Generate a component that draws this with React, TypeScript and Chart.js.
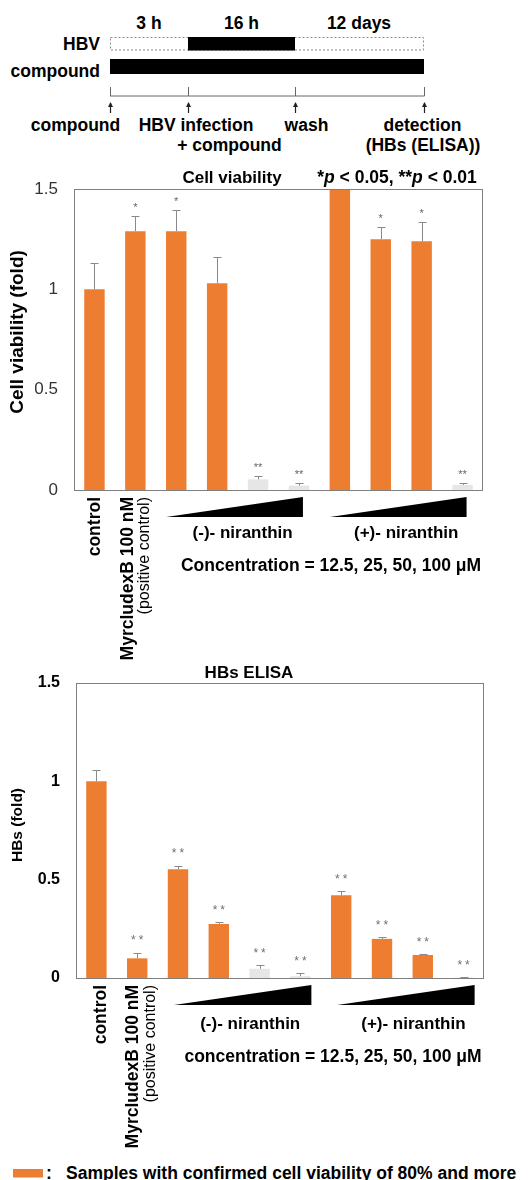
import React, { useEffect, useRef } from "react";
import { Chart, registerables } from "chart.js";

Chart.register(...registerables);

// ---------- data ----------
const categories = [
  "control",
  "MyrcludexB 100 nM",
  "(-)-niranthin 12.5 μM",
  "(-)-niranthin 25 μM",
  "(-)-niranthin 50 μM",
  "(-)-niranthin 100 μM",
  "(+)-niranthin 12.5 μM",
  "(+)-niranthin 25 μM",
  "(+)-niranthin 50 μM",
  "(+)-niranthin 100 μM",
];
const categoryLabelLines = [["control"], ["MyrcludexB 100 nM", "(positive control)"]];
const viability = [1.0, 1.29, 1.29, 1.03, 0.053, 0.022, 1.6, 1.25, 1.24, 0.025];
const viabilityErr = [0.13, 0.075, 0.105, 0.13, 0.015, 0.014, 0.1, 0.06, 0.095, 0.008];
const viabilitySig = ["", "*", "*", "", "**", "**", "", "*", "*", "**"];
const hbs = [1.0, 0.1, 0.553, 0.275, 0.047, 0.009, 0.421, 0.199, 0.117, 0.002];
const hbsErr = [0.06, 0.028, 0.018, 0.008, 0.018, 0.015, 0.02, 0.008, 0.003, 0.001];
const hbsSig = ["", "**", "**", "**", "**", "**", "**", "**", "**", "**"];
const yTicks = [0, 0.5, 1, 1.5];
const yTickLabels = ["0", "0.5", "1", "1.5"];
const groupLabels = ["(-)- niranthin", "(+)- niranthin"];
const groupStart = [2, 6];
const groupEnd = [5, 9];
const viabilityThreshold = 0.8;
const phaseLabels = ["3 h", "16 h", "12 days"];
const eventLabels = [["compound"], ["HBV infection", "+ compound"], ["wash"], ["detection", "(HBs (ELISA))"]];

// ---------- style ----------
const FONT = "'Liberation Sans', Arial, Helvetica, sans-serif";
const ORANGE = "#ED7D31";
const LIGHT = "#E6E6E6";
const barColors = viability.map((v) => (v >= viabilityThreshold ? ORANGE : LIGHT));

type PanelStyle = {
  padTop: number;
  padBottom: number;
  padRight: number;
  axisWidth: number;
  tickFont: { size: number; weight: string };
  tickColor: string;
  yTitle: string;
  yTitleFont: string;
  yTitleX: number;
  yTitleY: number;
  title: string;
  titleX: number;
  titleY: number;
  showP: boolean;
  sigFont: string;
  sigColor: string;
  sigSpacing: string;
  sigOffset: number;
  labelShift: number;
  wedgeL: number;
  wedgeR: number;
  groupDx: number;
  groupDy: number;
  concText: string;
  concX: number;
  concDy: number;
};

const style1: PanelStyle = {
  padTop: 39,
  padBottom: 190,
  padRight: 45,
  axisWidth: 74,
  tickFont: { size: 17, weight: "normal" },
  tickColor: "#333333",
  yTitle: "Cell viability (fold)",
  yTitleFont: `bold 19px ${FONT}`,
  yTitleX: 18,
  yTitleY: 182,
  title: "Cell viability",
  titleX: 232,
  titleY: 28,
  showP: true,
  sigFont: `11px ${FONT}`,
  sigColor: "#666666",
  sigSpacing: "0px",
  sigOffset: 11,
  labelShift: 1,
  wedgeL: -10,
  wedgeR: 4,
  groupDx: 5,
  groupDy: 43,
  concText: "Concentration = 12.5, 25, 50, 100 μM",
  concX: 331,
  concDy: 76,
};

const style2: PanelStyle = {
  padTop: 28,
  padBottom: 187,
  padRight: 44,
  axisWidth: 76,
  tickFont: { size: 16, weight: "bold" },
  tickColor: "#000000",
  yTitle: "HBs (fold)",
  yTitleFont: `bold 15.5px ${FONT}`,
  yTitleX: 18,
  yTitleY: 170,
  title: "HBs ELISA",
  titleX: 249,
  titleY: 18,
  showP: false,
  sigFont: `12px ${FONT}`,
  sigColor: "#707070",
  sigSpacing: "3px",
  sigOffset: 15,
  labelShift: 4.5,
  wedgeL: -4,
  wedgeR: 11,
  groupDx: 11,
  groupDy: 46,
  concText: "concentration = 12.5, 25, 50, 100 μM",
  concX: 333,
  concDy: 79,
};

function makeOverlay(values: number[], errors: number[], sig: string[], st: PanelStyle) {
  return {
    id: "overlay",
    afterDatasetsDraw(chart: any) {
      const { ctx, chartArea: a, scales } = chart;
      const xs = scales.x;
      const ys = scales.y;
      const meta = chart.getDatasetMeta(0);

      // error bars (clipped to the plot area)
      ctx.save();
      ctx.beginPath();
      ctx.rect(a.left, a.top, a.right - a.left, a.bottom - a.top);
      ctx.clip();
      ctx.strokeStyle = "#8a8a8a";
      ctx.lineWidth = 1;
      meta.data.forEach((bar: any, i: number) => {
        const y0 = ys.getPixelForValue(values[i]);
        const y1 = ys.getPixelForValue(values[i] + errors[i]);
        const bx = Math.round(bar.x) + 0.5;
        const cy = Math.round(y1) + 0.5;
        ctx.beginPath();
        ctx.moveTo(bx, y0);
        ctx.lineTo(bx, cy);
        ctx.moveTo(bx - 4, cy);
        ctx.lineTo(bx + 4, cy);
        ctx.stroke();
      });
      ctx.restore();

      // frame
      ctx.save();
      ctx.strokeStyle = "#7f7f7f";
      ctx.lineWidth = 1;
      ctx.strokeRect(Math.round(a.left) + 0.5, Math.round(a.top) + 0.5, Math.round(a.right - a.left) - 1, Math.round(a.bottom - a.top));
      ctx.restore();

      // significance marks
      ctx.save();
      ctx.font = st.sigFont;
      ctx.fillStyle = st.sigColor;
      ctx.textAlign = "center";
      ctx.textBaseline = "middle";
      (ctx as any).letterSpacing = st.sigSpacing;
      meta.data.forEach((bar: any, i: number) => {
        if (!sig[i]) return;
        const top = Math.min(ys.getPixelForValue(values[i] + errors[i]), a.bottom);
        ctx.fillText(sig[i], bar.x + (st.sigSpacing === "0px" ? 0 : 1.5), Math.max(top, a.top) - st.sigOffset + 3);
      });
      ctx.restore();

      ctx.save();
      ctx.fillStyle = "#000";
      // rotated category labels
      categoryLabelLines.forEach((lines, i) => {
        const cx = xs.getPixelForValue(i) + st.labelShift;
        lines.forEach((txt, j) => {
          const off = (j - (lines.length - 1) / 2) * 17;
          ctx.save();
          ctx.translate(cx + off, a.bottom + 7);
          ctx.rotate(-Math.PI / 2);
          ctx.font = j === 0 ? `bold 17.5px ${FONT}` : `16px ${FONT}`;
          ctx.textAlign = "right";
          ctx.textBaseline = "middle";
          ctx.fillText(txt, 0, 0);
          ctx.restore();
        });
      });

      // wedges + group labels
      groupLabels.forEach((lbl, g) => {
        const xl = xs.getPixelForValue(groupStart[g]) + st.wedgeL;
        const xr = xs.getPixelForValue(groupEnd[g]) + st.wedgeR;
        ctx.beginPath();
        ctx.moveTo(xl, a.bottom + 27);
        ctx.lineTo(xr, a.bottom + 7);
        ctx.lineTo(xr, a.bottom + 27);
        ctx.closePath();
        ctx.fill();
        const gc = (xs.getPixelForValue(groupStart[g]) + xs.getPixelForValue(groupEnd[g])) / 2 + st.groupDx;
        ctx.font = `bold 17px ${FONT}`;
        ctx.textAlign = "center";
        ctx.textBaseline = "middle";
        ctx.fillText(lbl, gc, a.bottom + st.groupDy);
      });
      ctx.font = `bold 17.5px ${FONT}`;
      ctx.textAlign = "center";
      ctx.textBaseline = "middle";
      ctx.fillText(st.concText, st.concX, a.bottom + st.concDy);

      // title
      ctx.font = `bold 17px ${FONT}`;
      ctx.fillText(st.title, st.titleX, st.titleY);

      // p-value note
      if (st.showP) {
        const parts: [string, boolean][] = [
          ["*", false],
          ["p", true],
          [" < 0.05, **", false],
          ["p", true],
          [" < 0.01", false],
        ];
        const fontOf = (it: boolean) => `${it ? "italic " : ""}bold 17.5px ${FONT}`;
        let total = 0;
        parts.forEach(([t, it]) => {
          ctx.font = fontOf(it);
          total += ctx.measureText(t).width;
        });
        let px = 397 - total / 2;
        ctx.textAlign = "left";
        parts.forEach(([t, it]) => {
          ctx.font = fontOf(it);
          ctx.fillText(t, px, st.titleY);
          px += ctx.measureText(t).width;
        });
      }

      // y-axis title
      ctx.save();
      ctx.translate(st.yTitleX, st.yTitleY);
      ctx.rotate(-Math.PI / 2);
      ctx.font = st.yTitleFont;
      ctx.textAlign = "center";
      ctx.textBaseline = "middle";
      ctx.fillText(st.yTitle, 0, 0);
      ctx.restore();
      ctx.restore();
    },
  };
}

function BarPanel(props: { values: number[]; errors: number[]; sig: string[]; st: PanelStyle; top: number; height: number }) {
  const ref = useRef<HTMLCanvasElement>(null);
  useEffect(() => {
    const { values, errors, sig, st } = props;
    const chart = new Chart(ref.current as HTMLCanvasElement, {
      type: "bar",
      data: {
        labels: categories,
        datasets: [
          {
            data: values,
            backgroundColor: barColors,
            borderWidth: 0,
            barPercentage: 0.5,
            categoryPercentage: 1,
            clip: 0,
          } as any,
        ],
      },
      options: {
        animation: false,
        responsive: true,
        maintainAspectRatio: false,
        events: [],
        layout: { padding: { left: 0, right: st.padRight, top: st.padTop, bottom: st.padBottom } },
        plugins: { legend: { display: false }, tooltip: { enabled: false }, title: { display: false } },
        scales: {
          x: { display: false },
          y: {
            min: 0,
            max: 1.5,
            afterBuildTicks: (s: any) => {
              s.ticks = yTicks.map((v) => ({ value: v }));
            },
            afterFit: (s: any) => {
              s.width = st.axisWidth;
            },
            ticks: {
              font: { family: FONT, size: st.tickFont.size, weight: st.tickFont.weight as any },
              color: st.tickColor,
              padding: 16,
              callback: (v: any) => {
                const k = yTicks.indexOf(Number(v));
                return k >= 0 ? yTickLabels[k] : String(v);
              },
            },
            grid: { display: false, drawTicks: false },
            border: { display: false },
          },
        },
      },
      plugins: [makeOverlay(values, errors, sig, st)],
    });
    return () => chart.destroy();
  }, []);
  return (
    <div style={{ position: "absolute", left: 0, top: props.top, width: 528, height: props.height }}>
      <canvas ref={ref} />
    </div>
  );
}

const phaseX = [149, 241.5, 359];
const eventX = [110, 188, 295, 424];
const eventLabelX = [[75.5], [196, 229.5], [306.5], [422.5, 423]];

function Diagram() {
  const t = { fontFamily: FONT, fontWeight: "bold" as const, fontSize: 17.5, fill: "#000" };
  return (
    <svg width={528} height={1180} style={{ position: "absolute", left: 0, top: 0 }}>
      {phaseLabels.map((p, i) => (
        <text key={p} x={phaseX[i]} y={23} textAnchor="middle" dominantBaseline="central" {...t}>
          {p}
        </text>
      ))}
      <text x={100} y={43.5} textAnchor="end" dominantBaseline="central" {...t}>
        HBV
      </text>
      <text x={100} y={71} textAnchor="end" dominantBaseline="central" {...t}>
        compound
      </text>
      <rect x={110.5} y={37.5} width={313} height={12.5} fill="none" stroke="#8a8a8a" strokeDasharray="2 2" />
      <rect x={188} y={37} width={107} height={13.5} fill="#000" />
      <rect x={110} y={59} width={314} height={15} fill="#000" />
      <line x1={110} y1={96} x2={424.5} y2={96} stroke="#666" strokeWidth={1} />
      {eventX.map((x) => (
        <g key={x}>
          <line x1={x + 0.5} y1={87} x2={x + 0.5} y2={96} stroke="#666" />
          <line x1={x + 0.5} y1={103} x2={x + 0.5} y2={113} stroke="#222" strokeWidth={1.2} />
          <path d={`M ${x - 2} ${107} L ${x + 0.5} ${102} L ${x + 3} ${107} Z`} fill="#222" />
        </g>
      ))}
      {eventLabels.map((lines, i) =>
        lines.map((ln, j) => (
          <text key={ln} x={eventLabelX[i][j]} y={125 + j * 20} textAnchor="middle" dominantBaseline="central" {...t}>
            {ln}
          </text>
        ))
      )}
      <rect x={13} y={1169} width={30} height={8.5} fill={ORANGE} />
      <text x={49} y={1173} textAnchor="middle" dominantBaseline="central" {...t}>
        :
      </text>
      <text x={66} y={1173} dominantBaseline="central" {...t}>
        Samples with confirmed cell viability of 80% and more
      </text>
    </svg>
  );
}

export default function App() {
  return (
    <div style={{ position: "absolute", left: 0, top: 0, width: 528, height: 1180, background: "#fff", overflow: "hidden" }}>
      <Diagram />
      <BarPanel values={viability} errors={viabilityErr} sig={viabilitySig} st={style1} top={150} height={530} />
      <BarPanel values={hbs} errors={hbsErr} sig={hbsSig} st={style2} top={655} height={510} />
    </div>
  );
}
